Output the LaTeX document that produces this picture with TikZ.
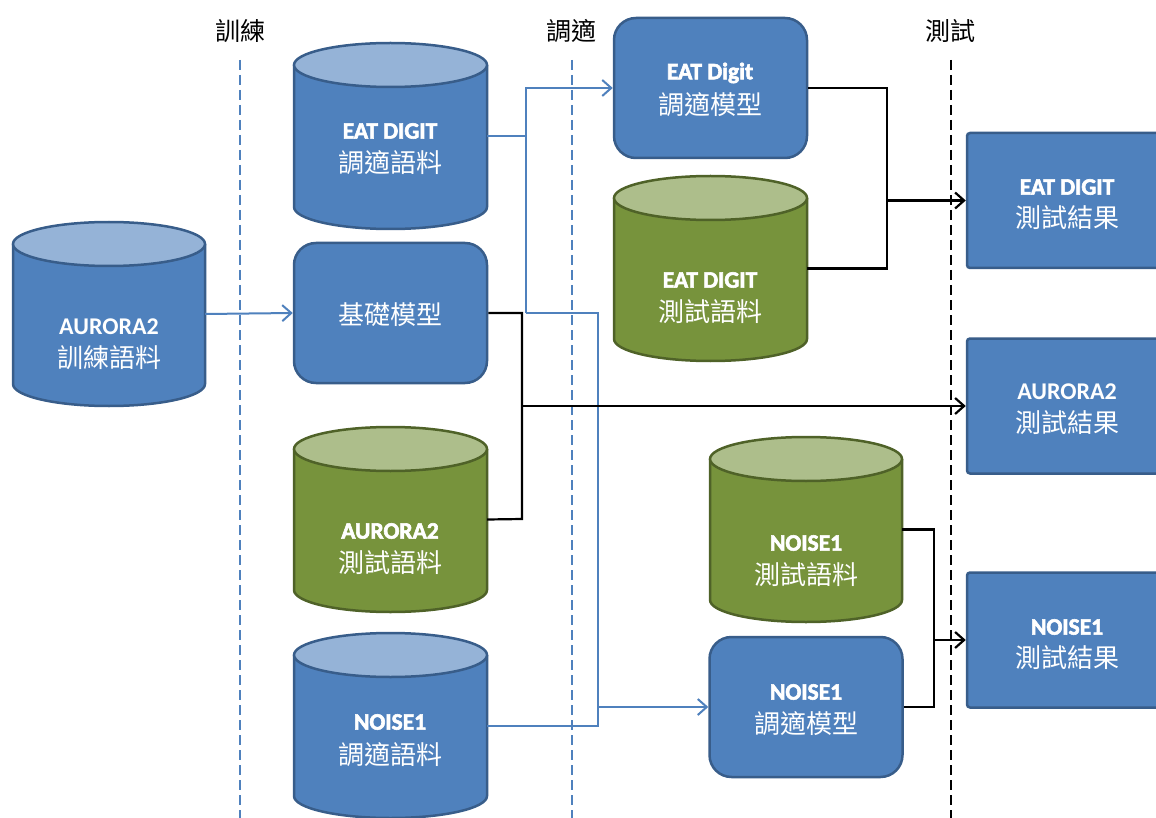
\documentclass[tikz,border=0pt]{standalone}
\usepackage{fontspec}
\setmainfont{Carlito}
\newfontfamily\cjk{Noto Sans CJK TC}
\newfontfamily\heavyfont{Carlito}[BoldFeatures={FakeBold=2.5}]
\usetikzlibrary{arrows.meta}
\definecolor{bfill}{HTML}{4F81BD}
\definecolor{bstroke}{HTML}{385D8A}
\definecolor{btop}{HTML}{95B3D7}
\definecolor{gfill}{HTML}{77933C}
\definecolor{gstroke}{HTML}{4F6228}
\definecolor{gtop}{HTML}{ADBE8B}
\tikzset{
  shapeline/.style={line width=2.5pt},
  rbox/.style={draw=bstroke, fill=bfill, line width=2.5pt, rounded corners=22pt, minimum width=193pt, minimum height=140pt, inner sep=0pt},
  resbox/.style={draw=bstroke, fill=bfill, line width=2.5pt, rounded corners=3pt, minimum width=200pt, minimum height=135pt, inner sep=0pt},
  lat/.style={text=white, font=\fontsize{24}{24}\selectfont\bfseries, inner sep=0pt},
  heavy/.style={text=white, font=\heavyfont\fontsize{23.5}{24}\selectfont\bfseries, inner sep=0pt},
  cjkt/.style={text=white, font=\cjk\fontsize{26}{26}\selectfont, inner sep=0pt},
  hdr/.style={text=black, font=\cjk\fontsize{25}{25}\selectfont, inner sep=0pt},
  bl/.style={draw=bfill, line width=2pt},
  bk/.style={draw=black, line width=2.2pt},
  arr/.style={-{Straight Barb[length=9pt,width=16pt]}},
  sepb/.style={draw=bfill, line width=1.3pt, dash pattern=on 10pt off 5pt},
  sepk/.style={draw=black, line width=1.3pt, dash pattern=on 10pt off 5pt},
}
% #1 name, #2 x1, #3 ytop, #4 x2, #5 ybot, #6 fill, #7 top fill, #8 stroke
\newcommand{\mycyl}[8]{%
  \pgfmathsetmacro\cylrx{(#4-#2)/2}%
  \pgfmathsetmacro\cylcx{(#4+#2)/2}%
  \pgfmathsetmacro\cylcy{-(#3+#5)/2}%
  \def\cylry{22}%
  \fill[#6] (#2,-#3-\cylry) -- (#2,-#5+\cylry) arc[start angle=180,end angle=360,x radius=\cylrx,y radius=\cylry] -- (#4,-#3-\cylry) -- cycle;
  \draw[#8, shapeline] (#2,-#3-\cylry) -- (#2,-#5+\cylry) arc[start angle=180,end angle=360,x radius=\cylrx,y radius=\cylry] -- (#4,-#3-\cylry);
  \filldraw[fill=#7, draw=#8, shapeline] (\cylcx,-#3-\cylry) ellipse[x radius=\cylrx, y radius=\cylry];
  \node[minimum width={(#4-#2)*1pt}, minimum height={(#5-#3)*1pt}, inner sep=0pt] (#1) at (\cylcx,\cylcy) {};
}
\begin{document}
\begin{tikzpicture}[x=1pt,y=1pt]
\path[use as bounding box, fill=white] (0,0) rectangle (1156,-818);

% separators and headers
\draw[sepb] (240,-60) -- (240,-818);
\draw[sepb] (572,-60) -- (572,-818);
\draw[sepk] (951,-60) -- (951,-818);
\node[hdr] (h1) at (240,-31) {訓練};
\node[hdr] (h2) at (571,-31) {調適};
\node[hdr] (h3) at (950,-31) {測試};

% cylinders
\mycyl{train}{13}{222}{205}{406}{bfill}{btop}{bstroke}
\mycyl{eatadapt}{294}{43}{487}{229}{bfill}{btop}{bstroke}
\mycyl{auroratest}{294}{427}{487}{612}{gfill}{gtop}{gstroke}
\mycyl{noiseadapt}{294}{633}{487}{818}{bfill}{btop}{bstroke}
\mycyl{eattest}{614}{176}{807}{361}{gfill}{gtop}{gstroke}
\mycyl{noisetest}{710}{437}{902}{622}{gfill}{gtop}{gstroke}

% rounded boxes
\node[rbox] (base) at (390.5,-313) {};
\node[rbox] (eatmodel) at (710.5,-88) {};
\node[rbox] (noisemodel) at (806,-707) {};

% result boxes
\node[resbox] (eatres) at (1067,-200.5) {};
\node[resbox] (aurres) at (1067,-406) {};
\node[resbox] (noiseres) at (1067,-640) {};

% texts
\node[lat] (t1a) at (109,-327) {AURORA2};
\node[cjkt] (t1b) at (109,-358) {訓練語料};
\node[heavy] (t2a) at (390,-131) {EAT DIGIT};
\node[cjkt] (t2b) at (390,-163) {調適語料};
\node[cjkt] (t3) at (390,-315) {基礎模型};
\node[heavy] (t4a) at (390,-531) {AURORA2};
\node[cjkt] (t4b) at (390,-563) {測試語料};
\node[heavy] (t5a) at (390,-722) {NOISE1};
\node[cjkt] (t5b) at (390,-755) {調適語料};
\node[heavy] (t6a) at (710,-73) {EAT Digit};
\node[cjkt] (t6b) at (710,-105) {調適模型};
\node[heavy] (t7a) at (710,-280) {EAT DIGIT};
\node[cjkt] (t7b) at (710,-312) {測試語料};
\node[heavy] (t8a) at (806,-543) {NOISE1};
\node[cjkt] (t8b) at (806,-575) {測試語料};
\node[heavy] (t9a) at (806,-692) {NOISE1};
\node[cjkt] (t9b) at (806,-724) {調適模型};
\node[heavy] (t10a) at (1067,-187) {EAT DIGIT};
\node[cjkt] (t10b) at (1067,-218) {測試結果};
\node[lat] (t11a) at (1067,-392) {AURORA2};
\node[cjkt] (t11b) at (1067,-423) {測試結果};
\node[heavy] (t12a) at (1067,-627) {NOISE1};
\node[cjkt] (t12b) at (1067,-658) {測試結果};

% joints
\coordinate (j1) at (526,-313);
\coordinate (j2) at (598,-313);
\coordinate (k1) at (522,-519);
\coordinate (k2) at (887,-200.5);
\coordinate (k3) at (934,-640);

% blue connectors
\draw[bl, arr] (train.east) -- (base.west);
\draw[bl, arr] (j1) |- (eatmodel.west);
\draw[bl] (eatadapt.east) -- (eatadapt.east -| j1);
\draw[bl, arr] (j1) -- (j2) |- (noisemodel.west);
\draw[bl] (noiseadapt.east) -| (j2 |- noisemodel.west);

% black connectors
\draw[bk] (base.east) -| (k1) -- (auroratest.east);
\draw[bk, arr] (k1 |- aurres.west) -- (aurres.west);
\draw[bk] (eatmodel.east) -| (k2);
\draw[bk] (eattest.east) -| (k2);
\draw[bk, arr] (k2) -- (eatres.west);
\draw[bk] (noisetest.east) -| (k3);
\draw[bk] (noisemodel.east) -| (k3);
\draw[bk, arr] (k3) -- (noiseres.west);
\end{tikzpicture}
\end{document}
